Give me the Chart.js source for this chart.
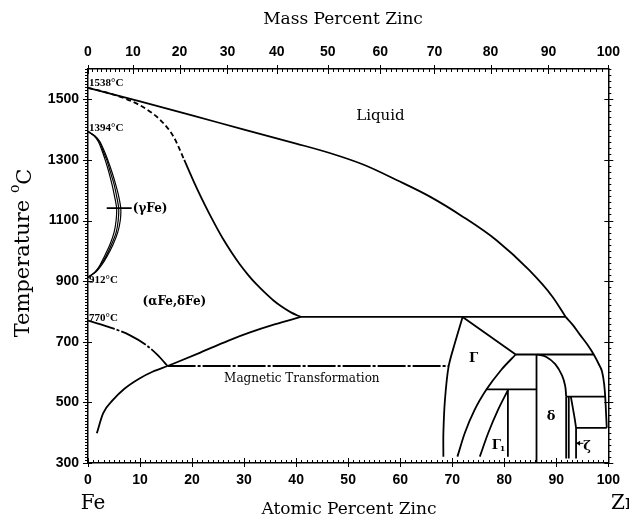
<!DOCTYPE html>
<html><head><meta charset="utf-8">
<script src="https://cdn.jsdelivr.net/npm/chart.js@4.4.0/dist/chart.umd.min.js"></script>
<style>html,body{margin:0;padding:0;background:#fff}#wrap{width:629px;height:520px;position:relative}</style>
</head><body><div id="wrap"><canvas id="c" width="629" height="520"></canvas></div>
<script>
// ---- tick labels ----
const atomicTicks = [0,10,20,30,40,50,60,70,80,90,100];
const massTicks   = [0,10,20,30,40,50,60,70,80,90,100];
const tempTicks   = [300,500,700,900,1100,1300,1500];

// ---- curves (atomic % Zn, temperature °C) ----
const liquidusX = [0,10,20,30,40,46.6,53,59.4,65.8,72.1,78.5,84.8,89.3,91.8];
const liquidusT = [1538,1493,1447,1400,1354,1322,1284,1233,1178,1112,1035,936,848,782];
const liquidusZnX = [91.8,93.2,94.6,96.0,97.2,98.2,98.8,99.2,99.4,99.7];
const liquidusZnT = [782,755,722,690,658,625,601,560,519,416];
const deltaFeDashX = [0,5,10,14,16.5,18.5];
const deltaFeDashT = [1538,1515,1480,1430,1375,1300];
const solidusX = [18.5,20.5,22.5,24.5,26,27.7,29.2,30.8,32.4,34,35.6,37.2,39,40.9];
const solidusT = [1300,1222,1150,1084,1038,992,955,920,889,862,837,816,797,782];
const loopT      = [1394,1380,1360,1330,1300,1260,1220,1180,1140,1100,1060,1020,980,950,930,912];
const loopOuterX = [0,1.3,2.3,3.1,3.8,4.6,5.3,5.9,6.3,6.2,5.7,4.8,3.6,2.5,1.5,0];
const loopMidX   = [0,1.2,2.2,2.9,3.6,4.3,5.0,5.5,5.9,5.8,5.4,4.5,3.4,2.3,1.4,0];
const loopInnerX = [0,1.1,2.0,2.7,3.3,4.0,4.6,5.1,5.5,5.4,5.0,4.2,3.1,2.2,1.3,0];
const gammaPointerX = [3.6,8.4];
const gammaPointerT = [1141,1141];
const curieX = [0,4.8,8,11.2,13.4,15.3];
const curieT = [770,744,722,689,656,620];
const magneticX = [15.3,69.3];
const magneticT = [620,620];
const alphaLowX = [1.7,2.9,4.8,7,9.9,12.4,15.3];
const alphaLowT = [398,464,508,545,579,601,620];
const alphaHighX = [15.3,21,27,31,36,40.9];
const alphaHighT = [620,660,704,730,758,782];
const peri782X = [40.9,91.8];
const peri782T = [782,782];
const gammaLeftX = [72,70.5,69.3,68.6,68.3,68.3];
const gammaLeftT = [782,695,618,508,398,321];
const gammaTopX = [72,82.2];
const gammaTopT = [782,658];
const peri665X = [82.2,97.2];
const peri665T = [658,658];
const gammaRightX = [71.0,72.4,74.3,76.6,79.4,82.2];
const gammaRightT = [321,398,475,543,607,658];
const gamma1TopX = [76.6,86.2];
const gamma1TopT = [543,543];
const gamma1LeftX = [75.3,76.9,78.8,80.7];
const gamma1LeftT = [321,398,475,540];
const gamma1RightX = [80.7,80.7];
const gamma1RightT = [543,321];
const deltaLeftX = [86.2,86.2];
const deltaLeftT = [658,300];
const deltaRightX = [86.3,88.1,89.8,91.1,91.7,91.9];
const deltaRightT = [658,650,626,589,555,519];
const deltaRightLowX = [91.9,91.9];
const deltaRightLowT = [519,315];
const zetaLeftX = [92.4,92.4];
const zetaLeftT = [519,315];
const zetaRightX = [92.8,93.2,93.6,93.8];
const zetaRightT = [519,480,440,416];
const zetaRightLowX = [93.8,93.8];
const zetaRightLowT = [416,315];
const peri530X = [91.9,99.4];
const peri530T = [519,519];
const eut419X = [93.8,99.7];
const eut419T = [416,416];

// ---- text labels ----
const labelTexts = ['Liquid','(γFe)','(αFe,δFe)','Magnetic Transformation','Γ','δ'];
const labelX = [56.2,8.6,16.6,41.1,74.1,89.0];
const labelT = [1444,1137,831,577,646,452];
const tempNoteTexts = ['1538°C','1394°C','912°C','770°C'];
const tempNoteT = [1553,1405,903,777];

const massToAtomic = w => { const a = w/65.38, b = (100-w)/55.845; return 100*a/(a+b); };
const pts = (X,T) => X.map((v,i)=>({x:v,y:T[i]}));

// style: solid / dash / dashdot / thin ; interp: 'm' monotone, number = tension
const curves = [
  [liquidusX, liquidusT, 'solid', 'm'],
  [liquidusZnX, liquidusZnT, 'solid', 'm'],
  [deltaFeDashX, deltaFeDashT, 'dash', 'm'],
  [solidusX, solidusT, 'solid', 'm'],
  [loopOuterX, loopT, 'thin', 0.3],
  [loopMidX, loopT, 'thin', 0.3],
  [loopInnerX, loopT, 'thin', 0.3],
  [gammaPointerX, gammaPointerT, 'solid', 0],
  [curieX, curieT, 'dashdot', 'm'],
  [magneticX, magneticT, 'dashdot', 0],
  [alphaLowX, alphaLowT, 'solid', 'm'],
  [alphaHighX, alphaHighT, 'solid', 'm'],
  [peri782X, peri782T, 'solid', 0],
  [gammaLeftX, gammaLeftT, 'solid', 0.3],
  [gammaTopX, gammaTopT, 'solid', 0],
  [peri665X, peri665T, 'solid', 0],
  [gammaRightX, gammaRightT, 'solid', 'm'],
  [gamma1TopX, gamma1TopT, 'solid', 0],
  [gamma1LeftX, gamma1LeftT, 'solid', 'm'],
  [gamma1RightX, gamma1RightT, 'solid', 0],
  [deltaLeftX, deltaLeftT, 'solid', 0],
  [deltaRightX, deltaRightT, 'solid', 0.4],
  [deltaRightLowX, deltaRightLowT, 'solid', 0],
  [zetaLeftX, zetaLeftT, 'solid', 0],
  [zetaRightX, zetaRightT, 'solid', 'm'],
  [zetaRightLowX, zetaRightLowT, 'solid', 0],
  [peri530X, peri530T, 'solid', 0],
  [eut419X, eut419T, 'solid', 0],
];

const datasets = curves.map(([X,T,style,interp]) => ({
  data: pts(X,T), showLine: true, pointRadius: 0, fill: false,
  borderColor: '#000', borderWidth: style==='thin'?1.2:1.8,
  tension: interp==='m' ? 0 : interp,
  cubicInterpolationMode: interp==='m' ? 'monotone' : 'default',
  borderDash: style==='dash'?[5,3]:(style==='dashdot'?[28,2,3,2]:[]),
  xAxisID: 'x', yAxisID: 'y'
}));

const tickFont = {family:'Liberation Sans', weight:'bold', size:14};

const decor = {
  id: 'decor',
  afterDraw(chart){
    const {ctx, chartArea:ca, scales:{x,y}} = chart;
    ctx.save();
    ctx.strokeStyle = '#000'; ctx.lineWidth = 1;
    const ln = (a,b,c,d) => { ctx.beginPath(); ctx.moveTo(a,b); ctx.lineTo(c,d); ctx.stroke(); };
    for (let v=0; v<=100; v+=1){
      const px = Math.round(x.getPixelForValue(v))+0.5, mj = v%10===0;
      ln(px, ca.bottom+(mj?4:0), px, ca.bottom-(mj?5:3));
    }
    for (let w=0; w<=100; w+=1){
      const px = Math.round(x.getPixelForValue(massToAtomic(w)))+0.5, mj = w%10===0;
      ln(px, ca.top-(mj?4:0), px, ca.top+(mj?5:3));
    }
    for (let t=300; t<=1600; t+=10){
      const py = Math.round(y.getPixelForValue(t))+0.5, mj = (t-300)%200===0;
      ln(ca.left-(mj?5:3), py, ca.left+(mj?4:0), py);
    }
    for (let t=300; t<=1600; t+=20){
      const py = Math.round(y.getPixelForValue(t))+0.5, mj = (t-300)%200===0;
      ln(ca.right+(mj?5:3), py, ca.right-(mj?4:0), py);
    }
    ctx.fillStyle = '#000';
    const fonts = ['15px "DejaVu Serif"','bold 12px "DejaVu Serif"','bold 12px "DejaVu Serif"','12px "DejaVu Serif"','bold 13px "DejaVu Serif"','bold 13px "DejaVu Serif"'];
    const aligns = ['center','left','center','center','center','center'];
    labelTexts.forEach((s,i)=>{
      ctx.font = fonts[i]; ctx.textAlign = aligns[i]; ctx.textBaseline = 'middle';
      ctx.fillText(s, x.getPixelForValue(labelX[i]), y.getPixelForValue(labelT[i]));
    });
    ctx.font = 'bold 13px "DejaVu Serif"'; ctx.textAlign='left';
    const gx = x.getPixelForValue(77.6), gy = y.getPixelForValue(358);
    ctx.fillText('Γ', gx, gy);
    ctx.font = 'bold 8px "DejaVu Serif"';
    ctx.fillText('1', gx+8, gy+4);
    ctx.font = 'bold 13px "DejaVu Serif"';
    ctx.fillText('ζ', x.getPixelForValue(95.2), y.getPixelForValue(355));
    const ay = y.getPixelForValue(365), ax0 = x.getPixelForValue(93.8), ax1 = x.getPixelForValue(95.2);
    ln(ax0, ay, ax1, ay);
    ctx.beginPath(); ctx.moveTo(ax0, ay); ctx.lineTo(ax0+4, ay-2.5); ctx.lineTo(ax0+4, ay+2.5); ctx.closePath(); ctx.fill();
    ctx.font = 'bold 11px "Liberation Serif"'; ctx.textAlign='left';
    tempNoteTexts.forEach((s,i)=>{
      ctx.fillText(s, x.getPixelForValue(0)+1, y.getPixelForValue(tempNoteT[i]));
    });
    ctx.textAlign = 'center'; ctx.textBaseline = 'middle';
    ctx.font = '17px "DejaVu Serif"';
    ctx.fillText('Mass Percent Zinc', 343, 20);
    ctx.font = '17px "DejaVu Serif"';
    ctx.fillText('Atomic Percent Zinc', 349, 510);
    ctx.font = '20px "DejaVu Serif"';
    ctx.fillText('Fe', 93, 504);
    ctx.textAlign = 'left';
    ctx.fillText('Zn', 611, 504);
    ctx.save();
    ctx.translate(24, 253); ctx.rotate(-Math.PI/2);
    ctx.font = '21px "DejaVu Serif"';
    const w1 = ctx.measureText('Temperature ').width;
    ctx.font = '14px "DejaVu Serif"';
    const w2 = ctx.measureText('o').width;
    ctx.font = '21px "DejaVu Serif"';
    const w3 = ctx.measureText('C').width;
    let sx = -(w1+w2+w3)/2;
    ctx.textAlign = 'left';
    ctx.fillText('Temperature ', sx, 0);
    ctx.font = '14px "DejaVu Serif"';
    ctx.fillText('o', sx+w1, -9);
    ctx.font = '21px "DejaVu Serif"';
    ctx.fillText('C', sx+w1+w2, 2);
    ctx.restore();
    ctx.restore();
  }
};

new Chart(document.getElementById('c'), {
  type: 'scatter',
  data: { datasets },
  options: {
    responsive: false, devicePixelRatio: 1, animation: false,
    layout: { padding: 0 },
    plugins: { legend: {display:false}, tooltip: {enabled:false}, title:{display:false} },
    scales: {
      x: { type:'linear', position:'bottom', min:0, max:100,
        afterBuildTicks: s => { s.ticks = atomicTicks.map(v=>({value:v})); },
        afterFit: s => { s.height = 57; },
        grid: {display:false, drawTicks:false},
        border: {display:true, color:'#000', width:1.5},
        ticks: {color:'#000', font:tickFont, padding:9, maxRotation:0, autoSkip:false,
                callback:(v,i)=>String(atomicTicks[i])} },
      x2: { type:'linear', position:'top', min:0, max:100,
        afterBuildTicks: s => { s.ticks = massTicks.map(w=>({value:massToAtomic(w)})); },
        afterFit: s => { s.height = 69; },
        grid: {display:false, drawTicks:false},
        border: {display:true, color:'#000', width:1.5},
        ticks: {color:'#000', font:tickFont, padding:8, maxRotation:0, autoSkip:false,
                callback:(v,i)=>String(massTicks[i])} },
      y: { type:'linear', position:'left', min:300, max:1600,
        afterBuildTicks: s => { s.ticks = tempTicks.map(v=>({value:v})); },
        afterFit: s => { s.width = 88; },
        grid: {display:false, drawTicks:false},
        border: {display:true, color:'#000', width:1.5},
        ticks: {color:'#000', font:tickFont, padding:9, autoSkip:false,
                callback:(v,i)=>String(tempTicks[i])} },
      y2: { type:'linear', position:'right', min:300, max:1600,
        afterFit: s => { s.width = 16; },
        grid: {display:false, drawTicks:false},
        border: {display:true, color:'#000', width:1.5},
        ticks: {display:false} }
    }
  },
  plugins: [decor]
});
</script></body></html>
